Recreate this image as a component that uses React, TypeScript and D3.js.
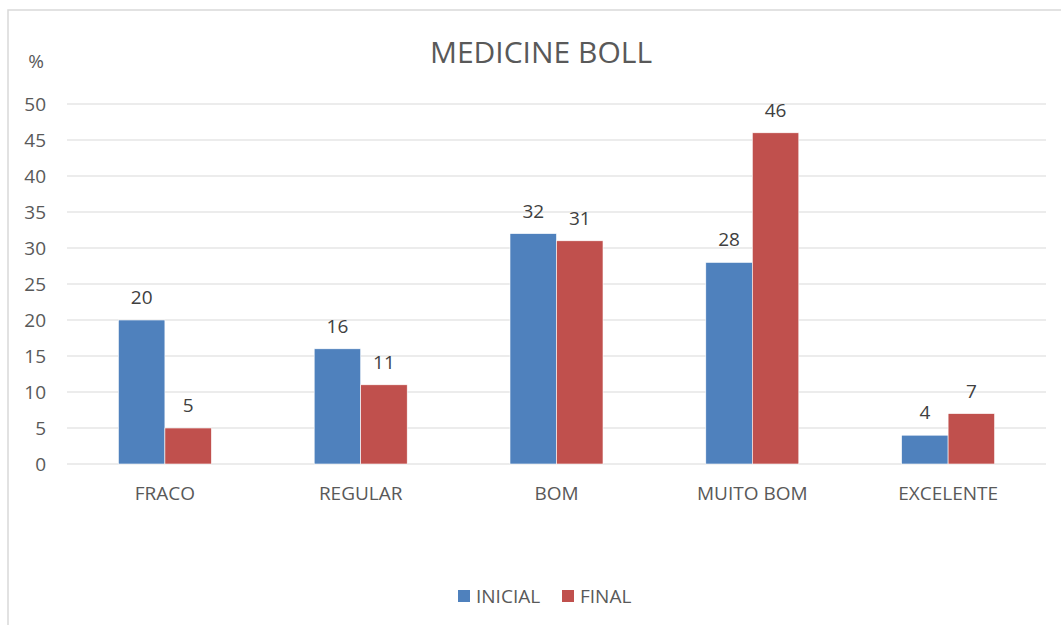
import React from "react";
import * as d3 from "d3";

const categories = ["FRACO", "REGULAR", "BOM", "MUITO BOM", "EXCELENTE"];
const inicial = [20, 16, 32, 28, 4];
const final = [5, 11, 31, 46, 7];
const seriesNames = ["INICIAL", "FINAL"];
const yTicks = [0, 5, 10, 15, 20, 25, 30, 35, 40, 45, 50];
const colors = ["#4F81BD", "#C0504D"];

export default function App() {
  const W = 1061, H = 625;
  const left = 67, right = 1046, top = 104, bottom = 464;
  const x = d3.scaleBand<string>().domain(categories).range([left, right]).paddingInner(0.525).paddingOuter(0.2625);
  const sub = d3.scaleBand<string>().domain(seriesNames).range([0, x.bandwidth()]);
  const y = d3.scaleLinear().domain([0, 50]).range([bottom, top]);
  const font = "'Open Sans', 'Noto Sans', sans-serif";
  const txt = "#595959";
  const fs = 19;
  const series = [inicial, final];
  return (
    <svg width={W} height={H} style={{ position: "absolute", left: 0, top: 0, background: "#fff" }} fontFamily={font}>
      <rect x={8} y={10} width={W} height={H} fill="#fff" stroke="#d9d9d9" strokeWidth={1.5} />
      <text x={541} y={63} textAnchor="middle" fontSize={30} fill={txt}>MEDICINE BOLL</text>
      <text x={36} y={68} textAnchor="middle" fontSize={fs} fill={txt}>%</text>
      {yTicks.map((t) => (
        <g key={t}>
          <line x1={left} x2={right} y1={y(t)} y2={y(t)} stroke="#d9d9d9" strokeWidth={1} />
          <text x={46} y={y(t)} dy="0.35em" textAnchor="end" fontSize={fs} fill={txt}>{t}</text>
        </g>
      ))}
      {categories.map((c, i) => (
        <g key={c}>
          {series.map((s, j) => {
            const bx = (x(c) as number) + (sub(seriesNames[j]) as number);
            return (
              <g key={j}>
                <rect x={bx} y={y(s[i])} width={sub.bandwidth()} height={y(0) - y(s[i])} fill={colors[j]} stroke="#fff" strokeWidth={0.6} />
                <text x={bx + sub.bandwidth() / 2} y={y(s[i]) - 16} textAnchor="middle" fontSize={fs} fill="#404040">{s[i]}</text>
              </g>
            );
          })}
          <text x={(x(c) as number) + x.bandwidth() / 2} y={500} textAnchor="middle" fontSize={fs} fill={txt}>{c}</text>
        </g>
      ))}
      {seriesNames.map((n, j) => {
        const lx = j === 0 ? 458 : 562;
        return (
          <g key={n}>
            <rect x={lx} y={590} width={12} height={12} fill={colors[j]} />
            <text x={lx + 18} y={603} fontSize={fs} fill={txt}>{n}</text>
          </g>
        );
      })}
    </svg>
  );
}
